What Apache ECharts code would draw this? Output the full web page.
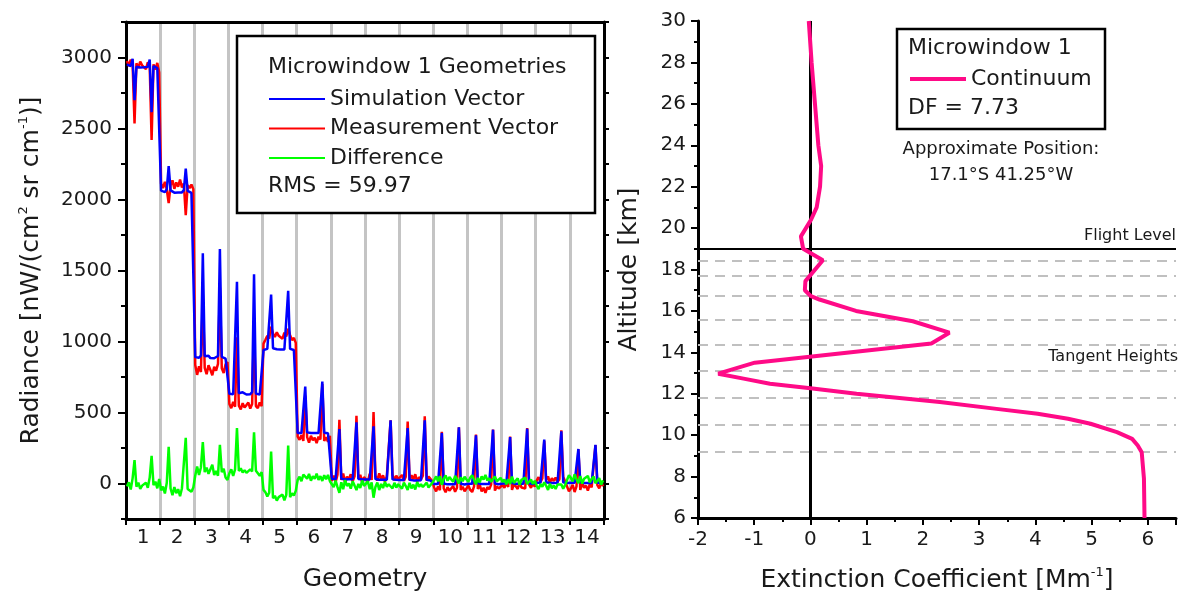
<!DOCTYPE html>
<html>
<head>
<meta charset="utf-8">
<script src="https://cdn.jsdelivr.net/npm/echarts@6/dist/echarts.min.js"></script>
<style>
html,body{margin:0;padding:0;background:#fff;}
#c{width:1190px;height:598px;}
</style>
</head>
<body>
<div id="c"></div>
<script>
// ---------------- DATA ----------------
const geometryLabels = ['1','2','3','4','5','6','7','8','9','10','11','12','13','14'];
const samplesPerGeometry = 18;

// Simulation vector (blue), one row per geometry
const simulation = [
  [2952,2948,2940,2990,2700,2935,2932,2930,2928,2931,2926,2934,2985,2615,2940,2930,2926,2930],
  [2062,2055,2052,2072,2235,2064,2050,2048,2050,2049,2047,2050,2066,2217,2060,2048,2046,2045],
  [890,888,885,902,1622,896,884,900,883,896,882,884,898,1652,892,882,880,878],
  [632,630,628,642,1421,636,629,642,628,627,638,628,645,1473,634,627,626,625],
  [940,950,948,956,1330,952,946,945,944,943,942,944,955,1357,948,942,940,938],
  [355,357,356,362,683,360,356,355,356,355,354,355,362,718,358,355,354,352],
  [32,30,31,36,384,34,30,29,31,30,29,30,35,431,32,30,29,28],
  [28,27,28,33,403,31,27,26,27,26,26,27,33,445,29,27,26,25],
  [24,23,24,30,391,27,23,22,23,22,22,23,30,445,26,22,21,20],
  [-4,-5,-4,3,356,0,-5,-6,-5,-6,-6,-5,2,396,-2,-6,-7,-7],
  [-2,-3,-2,5,339,1,-3,-4,-3,-4,-4,-3,4,379,0,-4,-5,-5],
  [0,-1,0,6,327,3,-1,-2,-1,-2,-2,-1,6,386,2,-2,-3,-3],
  [6,5,6,12,309,9,5,4,5,4,4,5,11,367,8,4,3,3],
  [5,4,5,10,243,8,4,3,4,3,3,4,10,272,7,3,2,2]
];

// Measurement vector (red)
const measurement = [
  [2975,2940,2985,2950,2535,2960,2925,2972,2945,2956,2918,2966,2940,2420,2952,2915,2962,2895],
  [2112,2080,2125,2070,1975,2100,2135,2075,2120,2090,2140,2085,2112,1890,2100,2080,2105,2072],
  [835,765,825,785,1330,815,770,832,800,762,822,795,842,1380,812,778,840,855],
  [560,530,575,540,1030,548,522,566,535,552,570,528,560,1113,545,530,572,545],
  [985,1012,1040,1020,1105,1055,1032,1065,1040,1052,1020,1062,1035,1090,1045,1010,1025,990],
  [330,308,340,300,620,326,288,336,304,322,284,330,310,700,300,326,294,336],
  [18,55,10,62,449,25,70,5,48,30,65,15,50,477,35,62,8,45],
  [40,12,68,25,503,55,20,72,30,58,14,50,38,445,64,22,55,30],
  [35,60,18,48,437,22,58,30,65,12,45,28,55,473,20,50,38,15],
  [-30,-55,-20,-48,365,-35,-62,-25,-50,-40,-18,-58,-30,396,-45,-22,-55,-35],
  [-15,-45,-60,-20,345,-38,-10,-55,-30,-65,-25,-40,-8,380,-50,-20,-35,-45],
  [-10,-30,5,-25,330,-45,-5,-20,-38,8,-28,-15,-35,390,-8,-30,0,-22],
  [20,45,10,35,300,25,50,5,38,18,42,12,30,374,45,15,28,-55],
  [-35,-10,-60,-20,240,-45,5,-30,-15,-50,-5,-28,-40,270,-12,-35,10,-20]
];

// Difference (green)
const difference = [
  [-20,8,-42,38,165,-22,6,-38,-15,-24,6,-30,42,195,-12,14,-34,32],
  [-48,-22,-70,5,258,-35,-82,-25,-68,-40,-90,-33,-45,322,-38,-30,-58,-28],
  [55,120,60,115,292,80,112,68,82,132,60,88,55,272,80,104,42,25],
  [72,100,53,100,391,88,107,77,93,75,68,100,85,360,89,97,54,80],
  [-45,-62,-92,-64,225,-103,-86,-120,-96,-108,-78,-118,-80,267,-97,-68,-85,-52],
  [25,48,16,62,63,34,68,20,52,33,70,25,52,18,58,30,60,16],
  [14,-25,21,-26,-65,9,-40,24,-17,0,-36,15,-15,-46,-3,-32,21,-17],
  [-12,15,-40,8,-100,-24,7,-46,-3,-32,12,-23,-5,0,-35,5,-29,-5],
  [-11,-37,6,-18,-46,5,-35,-8,-42,10,-23,-5,-25,-28,6,-28,-17,5],
  [26,50,16,51,-9,35,57,19,45,34,12,53,32,0,43,16,48,28],
  [13,42,58,25,-6,39,7,51,27,61,21,37,12,-1,50,16,30,40],
  [10,29,-5,31,-3,48,4,18,37,-10,26,14,41,-4,10,28,-3,19],
  [-14,-40,-4,-23,9,-16,-45,-1,-33,-14,-38,-7,-19,-7,-37,-11,-25,58],
  [40,14,65,30,3,53,-1,33,19,53,8,32,50,2,19,38,-8,22]
];

// Right panel: continuum extinction profile
const altitudeKm = [30,28,26,24,23,22,21,20.4,19.6,19.0,18.45,17.44,17.0,16.71,16.55,16.0,15.5,14.95,14.43,13.5,12.97,12.73,12.48,12.27,12.0,11.6,11.27,11.03,10.79,10.55,10.15,9.82,9.5,9.18,7.9,6.0];
const extinction = [-0.03,0.02,0.08,0.14,0.19,0.17,0.11,0.01,-0.17,-0.13,0.22,-0.09,-0.10,0.01,0.16,0.81,1.82,2.47,2.15,-0.99,-1.64,-1.19,-0.72,0.0,0.82,2.3,3.31,4.04,4.58,4.98,5.45,5.72,5.82,5.89,5.93,5.94];
const flightLevelKm = 19;
const tangentHeightsKm = [18.42,17.68,16.72,15.58,14.37,13.11,11.82,10.5,9.19];

// ---------------- BUILD ----------------
function flatten(rows){
  const out = [];
  rows.forEach((row,g)=>row.forEach((v,i)=>out.push([g*samplesPerGeometry + i + 0.5, v])));
  return out;
}
const nTot = geometryLabels.length * samplesPerGeometry;
const FONT = 'DejaVu Sans';
const TXT = '#1a1a1a';

const chart = echarts.init(document.getElementById('c'), null, {renderer:'canvas'});
const option = {
  animation:false,
  backgroundColor:'#fff',
  textStyle:{fontFamily:FONT, color:TXT},
  grid:[
    {left:126, top:22, right:586, bottom:79, containLabel:false},
    {left:698, top:21, right:14, bottom:79, containLabel:false}
  ],
  xAxis:[
    { gridIndex:0, type:'value', min:0, max:nTot, interval:samplesPerGeometry,
      axisLine:{show:true, onZero:false, lineStyle:{color:'#000', width:3}},
      axisTick:{show:true, inside:false, length:6, lineStyle:{color:'#000', width:2}},
      axisLabel:{show:false},
      splitLine:{show:true, lineStyle:{color:'#c4c4c4', width:3}},
      name:'Geometry', nameLocation:'middle', nameGap:48,
      nameTextStyle:{fontSize:25, color:TXT, fontFamily:FONT}
    },
    { gridIndex:0, type:'category', data:geometryLabels, boundaryGap:true, position:'bottom',
      axisLine:{show:false}, axisTick:{show:false}, splitLine:{show:false},
      axisLabel:{show:true, fontSize:20, color:TXT, fontFamily:FONT, margin:9, interval:0}
    },
    { gridIndex:0, type:'value', min:0, max:nTot, position:'top',
      axisLine:{show:true, onZero:false, lineStyle:{color:'#000', width:3}},
      axisTick:{show:false}, axisLabel:{show:false}, splitLine:{show:false}
    },
    { gridIndex:1, type:'value', min:-2, max:6.5, interval:1,
      axisLine:{show:true, onZero:false, lineStyle:{color:'#000', width:3}},
      axisTick:{show:true, inside:false, length:7, lineStyle:{color:'#000', width:2}},
      minorTick:{show:true, splitNumber:2, length:4, lineStyle:{color:'#000', width:2}},
      axisLabel:{show:true, fontSize:20, color:TXT, fontFamily:FONT, margin:12, showMaxLabel:false},
      splitLine:{show:false},
      name:'{a|Extinction Coefficient [Mm}{s|-1}{a|]}', nameLocation:'middle', nameGap:48,
      nameTextStyle:{rich:{a:{fontSize:25, color:TXT, fontFamily:FONT}, s:{fontSize:13, color:TXT, fontFamily:FONT, padding:[0,0,16,0]}}}
    }
  ],
  yAxis:[
    { gridIndex:0, type:'value', min:-250, max:3250, interval:250, position:'left',
      axisLine:{show:true, onZero:false, lineStyle:{color:'#000', width:3}},
      axisTick:{show:true, inside:false, length:5, lineStyle:{color:'#000', width:2}},
      axisLabel:{show:true, fontSize:20, color:TXT, fontFamily:FONT, margin:14,
        formatter:(v)=> (Math.round(v) % 500 === 0 ? String(Math.round(v)) : '')},
      splitLine:{show:false},
      name:'{a|Radiance [nW/(cm}{s|2}{a| sr cm}{s|-1}{a|)]}', nameLocation:'middle', nameGap:80,
      nameTextStyle:{rich:{a:{fontSize:25, color:TXT, fontFamily:FONT}, s:{fontSize:13, color:TXT, fontFamily:FONT, padding:[0,0,16,0]}}}
    },
    { gridIndex:0, type:'value', min:-250, max:3250, position:'left',
      axisLine:{show:false},
      axisTick:{show:true, inside:false, length:8, customValues:[0,500,1000,1500,2000,2500,3000], lineStyle:{color:'#000', width:2}},
      axisLabel:{show:false}, splitLine:{show:false}
    },
    { gridIndex:0, type:'value', min:-250, max:3250, interval:250, position:'right',
      axisLine:{show:true, onZero:false, lineStyle:{color:'#000', width:3}},
      axisTick:{show:true, inside:false, length:5, lineStyle:{color:'#000', width:2}},
      axisLabel:{show:false}, splitLine:{show:false}
    },
    { gridIndex:1, type:'value', min:6, max:30, interval:2,
      axisLine:{show:true, onZero:false, lineStyle:{color:'#000', width:3}},
      axisTick:{show:true, inside:false, length:7, lineStyle:{color:'#000', width:2}},
      minorTick:{show:true, splitNumber:2, length:4, lineStyle:{color:'#000', width:2}},
      axisLabel:{show:true, fontSize:20, color:TXT, fontFamily:FONT, margin:12},
      splitLine:{show:false},
      name:'Altitude [km]', nameLocation:'middle', nameGap:56,
      nameTextStyle:{fontSize:25, color:TXT, fontFamily:FONT}
    }
  ],
  legend:[
    { orient:'vertical', left:264, top:83, itemWidth:56, itemHeight:20, itemGap:7.5,
      data:['Simulation Vector','Measurement Vector','Difference'],
      textStyle:{fontSize:22, color:TXT, fontFamily:FONT}, icon:'path://M0,9 L56,9 L56,11 L0,11 Z',
      selectedMode:false, z:20 },
    { orient:'vertical', left:905, top:63, itemWidth:56, itemHeight:20, itemGap:8,
      data:['Continuum'],
      textStyle:{fontSize:22, color:TXT, fontFamily:FONT}, icon:'path://M0,8 L56,8 L56,12 L0,12 Z',
      selectedMode:false, z:20 }
  ],
  graphic:[
    { type:'rect', z:10, shape:{x:237, y:36, width:358, height:177}, style:{fill:'#fff', stroke:'#000', lineWidth:2.5} },
    { type:'text', z:11, x:268, y:67, style:{text:'Microwindow 1 Geometries', font:'22px "DejaVu Sans"', fill:TXT, textVerticalAlign:'middle'} },
    { type:'text', z:11, x:268, y:186, style:{text:'RMS = 59.97', font:'22px "DejaVu Sans"', fill:TXT, textVerticalAlign:'middle'} },
    { type:'rect', z:10, shape:{x:897, y:29, width:208, height:100}, style:{fill:'#fff', stroke:'#000', lineWidth:2.5} },
    { type:'text', z:11, x:908, y:48, style:{text:'Microwindow 1', font:'22px "DejaVu Sans"', fill:TXT, textVerticalAlign:'middle'} },
    { type:'text', z:11, x:908, y:108, style:{text:'DF = 7.73', font:'22px "DejaVu Sans"', fill:TXT, textVerticalAlign:'middle'} },
    { type:'text', z:11, x:1001, y:149, style:{text:'Approximate Position:', font:'18px "DejaVu Sans"', fill:TXT, textAlign:'center', textVerticalAlign:'middle'} },
    { type:'text', z:11, x:1001, y:175, style:{text:'17.1°S 41.25°W', font:'18px "DejaVu Sans"', fill:TXT, textAlign:'center', textVerticalAlign:'middle'} },
    { type:'text', z:11, x:1178, y:357, style:{text:'Tangent Heights', font:'16px "DejaVu Sans"', fill:TXT, textAlign:'right', textVerticalAlign:'middle'} }
  ],
  series:[
    { name:'Measurement Vector', type:'line', xAxisIndex:0, yAxisIndex:0, data:flatten(measurement),
      showSymbol:false, symbol:'none', lineStyle:{color:'#ff0000', width:2.5}, itemStyle:{color:'#ff0000'}, z:3 },
    { name:'Simulation Vector', type:'line', xAxisIndex:0, yAxisIndex:0, data:flatten(simulation),
      showSymbol:false, symbol:'none', lineStyle:{color:'#0000ff', width:2.5}, itemStyle:{color:'#0000ff'}, z:4 },
    { name:'Difference', type:'line', xAxisIndex:0, yAxisIndex:0, data:flatten(difference),
      showSymbol:false, symbol:'none', lineStyle:{color:'#00ff00', width:2.5}, itemStyle:{color:'#00ff00'}, z:5 },
    { name:'tangent', type:'line', xAxisIndex:3, yAxisIndex:3, data:[], z:2,
      markLine:{ silent:true, symbol:['none','none'], label:{show:false},
        lineStyle:{color:'#c0c0c0', width:2, type:[10,7]},
        data: tangentHeightsKm.map(h=>({yAxis:h})) } },
    { name:'refs', type:'line', xAxisIndex:3, yAxisIndex:3, data:[], z:3,
      markLine:{ silent:true, symbol:['none','none'],
        data:[
          { xAxis:0, lineStyle:{color:'#000', width:3, type:'solid'}, label:{show:false} },
          { yAxis:flightLevelKm, lineStyle:{color:'#000', width:2, type:'solid'},
            label:{show:true, formatter:'Flight Level', position:'insideEndTop', fontSize:16, color:TXT, fontFamily:FONT, distance:[0,5]} }
        ] } },
    { name:'Continuum', type:'line', xAxisIndex:3, yAxisIndex:3,
      data: extinction.map((e,i)=>[e, altitudeKm[i]]),
      showSymbol:false, symbol:'none', lineStyle:{color:'#ff0a87', width:4}, itemStyle:{color:'#ff0a87'}, z:6 }
  ]
};
chart.setOption(option);
</script>
</body>
</html>
